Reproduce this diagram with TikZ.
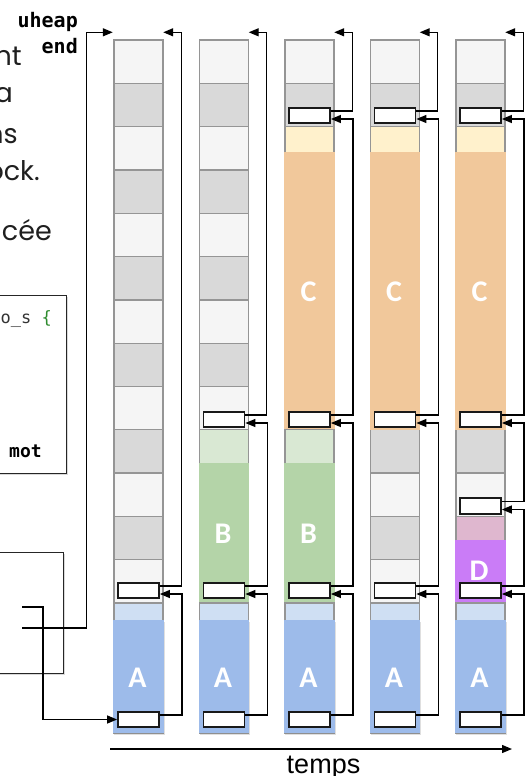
\documentclass[tikz,border=0pt]{standalone}
\usepackage{fontspec}
\usetikzlibrary{arrows.meta,shadows,calc}

\newfontfamily\slidefont{Poppins}
\newfontfamily\codefont{DejaVu Sans Mono}
\newfontfamily\blockfont{Carlito}
\newfontfamily\axisfont{Liberation Sans}

\definecolor{cellLight}{HTML}{F5F5F5}
\definecolor{cellDark}{HTML}{D9D9D9}
\definecolor{cellEdge}{HTML}{959595}
\definecolor{blkA}{HTML}{9DBBEA}
\definecolor{padA}{HTML}{CFDFF3}
\definecolor{blkB}{HTML}{B4D4A8}
\definecolor{padB}{HTML}{D9E8D3}
\definecolor{blkC}{HTML}{F1C89B}
\definecolor{padC}{HTML}{FFF1CC}
\definecolor{blkD}{HTML}{CA7CF7}
\definecolor{padD}{HTML}{DFB7CF}
\definecolor{codeGreen}{HTML}{2E8B2E}
\definecolor{inkText}{HTML}{1F1F1F}

\tikzset{
  cellbox/.style={draw=cellEdge, line width=1.3pt},
  hdr/.style={draw=black!90, fill=white, line width=1.8pt,
    minimum width=41pt, minimum height=15.5pt, inner sep=0pt,
    drop shadow={opacity=0.3, shadow xshift=0.8pt, shadow yshift=-1.2pt}},
  link/.style={draw=black, line width=1.3pt, -{Triangle[length=10pt,width=8pt]}},
  blocklabel/.style={text=white, font=\blockfont\bfseries\fontsize{30}{30}\selectfont},
  colframe/.style={draw=none, minimum width=49pt, minimum height=693pt, inner sep=0pt},
  codebox/.style={draw=black!85, fill=white, line width=1.4pt, inner sep=0pt,
    drop shadow={opacity=0.3, shadow xshift=1.5pt, shadow yshift=-1.5pt}},
  slide/.style={text=inkText, font=\slidefont\fontsize{27}{27}\selectfont, inner sep=0pt},
  fieldlbl/.style={font=\codefont\bfseries\fontsize{20}{20}\selectfont, inner sep=0pt},
}

% one allocated block: column, block top, data top, block bottom, pad colour, data colour
\newcommand\heapblock[6]{%
  \pgfmathsetmacro\blkL{114+85.5*(#1-1)}%
  \fill[#6] (\blkL-0.65,#3) rectangle (\blkL+49.65,#4);
  \fill[#5] (\blkL,#2) rectangle (\blkL+49,#3);
  \draw[cellEdge, line width=1.3pt] (\blkL,#3) -- (\blkL,#2) -- (\blkL+49,#2) -- (\blkL+49,#3);
}
% block header: column, cell index, centre y
\newcommand\hdrbox[3]{\node[hdr] (h#1-#2) at ({114+85.5*(#1-1)+24.5},#3) {};}
% header -> next header above
\newcommand\hlink[2]{\draw[link] ([yshift=4.5pt]#1.east) -| ([xshift=22pt,yshift=-3.5pt]#2.east) -- ([yshift=-3.5pt]#2.east);}
% last header -> end of the heap
\newcommand\toplink[2]{\draw[link] ([yshift=4.5pt]#1.east) -| ([xshift=18pt,yshift=7.5pt]#2.north east) -- ([yshift=7.5pt]#2.north east);}

\begin{document}
\begin{tikzpicture}[x=1pt,y=-1pt]
\useasboundingbox (0,0) rectangle (531,776);
\def\cellh{43.3125}

% slide text
\node[slide, anchor=base east] (s1) at (22,66) {nt};
\node[slide, anchor=base east] (s2) at (13,102) {a};
\node[slide, anchor=base east] (s3) at (18,143) {ns};
\node[slide, anchor=base east] (s4) at (40,180) {ock.};
\node[slide, anchor=base east] (s5) at (52,240) {cée};

% struct definition box
\node[codebox, anchor=north east, minimum width=85pt, minimum height=178pt] (structdef) at (67,295) {};
\node[anchor=base east, inner sep=0pt, text=black!80, font=\codefont\fontsize{17}{17}\selectfont] (code1) at (52,323) {o\_s {\color{codeGreen}\{}};
\node[anchor=base west, inner sep=0pt, font=\codefont\bfseries\fontsize{18}{18}\selectfont] (code2) at (9,457) {mot};

% variables box
\node[codebox, anchor=north east, minimum width=82pt, minimum height=121pt] (varbox) at (64,552) {};
\coordinate (uheapfield) at (22,607);
\coordinate (endfield) at (22,628);

% pointer labels
\node[fieldlbl, anchor=base east] (uheaplbl) at (78,28) {uheap};
\node[fieldlbl, anchor=base east] (endlbl) at (78,54) {end};

% heap columns: 16 words each
\foreach \c in {1,...,5}{
  \pgfmathsetmacro\colL{114+85.5*(\c-1)}
  \node[colframe] (col\c) at (\colL+24.5,386.5) {};
  \foreach \k in {1,...,16}{
    \ifodd\k \def\cellcol{cellLight}\else\def\cellcol{cellDark}\fi
    \filldraw[cellbox, fill=\cellcol] (\colL,{40+(\k-1)*\cellh}) rectangle (\colL+49,{40+\k*\cellh});
  }
}

% allocated blocks, top to bottom
\foreach \c in {3,4,5}{\heapblock{\c}{126.63}{152}{429.81}{padC}{blkC}}
\foreach \c in {2,3}{\heapblock{\c}{429.81}{463}{603.06}{padB}{blkB}}
\heapblock{5}{516.44}{540}{603.06}{padD}{blkD}
\foreach \c in {1,...,5}{\fill[blkA, drop shadow={opacity=0.25, shadow xshift=1pt, shadow yshift=-1.5pt}] ({114+85.5*(\c-1)-0.65},620) rectangle ({114+85.5*(\c-1)+49.65},733);
  \fill[padA] ({114+85.5*(\c-1)},603.06) rectangle ({114+85.5*(\c-1)+49},620);
  \draw[cellEdge, line width=1.3pt] ({114+85.5*(\c-1)},620) -- ({114+85.5*(\c-1)},603.06) -- ({114+85.5*(\c-1)+49},603.06) -- ({114+85.5*(\c-1)+49},620);}

% block labels
\foreach \c in {1,...,5}{\node[blocklabel] (la\c) at ({114+85.5*(\c-1)+23.5},678) {A};}
\foreach \c in {2,3}{\node[blocklabel] (lb\c) at ({114+85.5*(\c-1)+23.5},534) {B};}
\foreach \c in {3,4,5}{\node[blocklabel] (lc\c) at ({114+85.5*(\c-1)+23.5},292) {C};}
\node[blocklabel] (ld5) at ({114+85.5*4+23},571) {D};

% block headers
\hdrbox{1}{13}{590.5} \hdrbox{1}{16}{719.5}
\hdrbox{2}{9}{419.5} \hdrbox{2}{13}{590.5} \hdrbox{2}{16}{719.5}
\hdrbox{3}{2}{115.5} \hdrbox{3}{9}{419.5} \hdrbox{3}{13}{590.5} \hdrbox{3}{16}{719.5}
\hdrbox{4}{2}{115.5} \hdrbox{4}{9}{419.5} \hdrbox{4}{13}{590.5} \hdrbox{4}{16}{719.5}
\hdrbox{5}{2}{115.5} \hdrbox{5}{9}{419.5} \hdrbox{5}{11}{506} \hdrbox{5}{13}{590.5} \hdrbox{5}{16}{719.5}

% header chains
\hlink{h1-16}{h1-13} \toplink{h1-13}{col1}
\hlink{h2-16}{h2-13} \hlink{h2-13}{h2-9} \toplink{h2-9}{col2}
\hlink{h3-16}{h3-13} \hlink{h3-13}{h3-9} \hlink{h3-9}{h3-2} \toplink{h3-2}{col3}
\hlink{h4-16}{h4-13} \hlink{h4-13}{h4-9} \hlink{h4-9}{h4-2} \toplink{h4-2}{col4}
\hlink{h5-16}{h5-13} \hlink{h5-13}{h5-11} \hlink{h5-11}{h5-9} \hlink{h5-9}{h5-2} \toplink{h5-2}{col5}

% uheap and end pointers
\draw[link] (uheapfield) -| ([xshift=-74pt]h1-16.west) -- (h1-16.west);
\draw[link] (endfield) -| ([xshift=-27pt,yshift=7.5pt]col1.north west) -- ([xshift=-1pt,yshift=7.5pt]col1.north west);

% time axis
\coordinate (tstart) at (110,749);
\coordinate (tend) at (512,749);
\draw[link] (tstart) -- (tend);
\node[anchor=base, inner sep=0pt, font=\axisfont\fontsize{27}{27}\selectfont] (templbl) at (323.5,773) {temps};
\end{tikzpicture}
\end{document}
